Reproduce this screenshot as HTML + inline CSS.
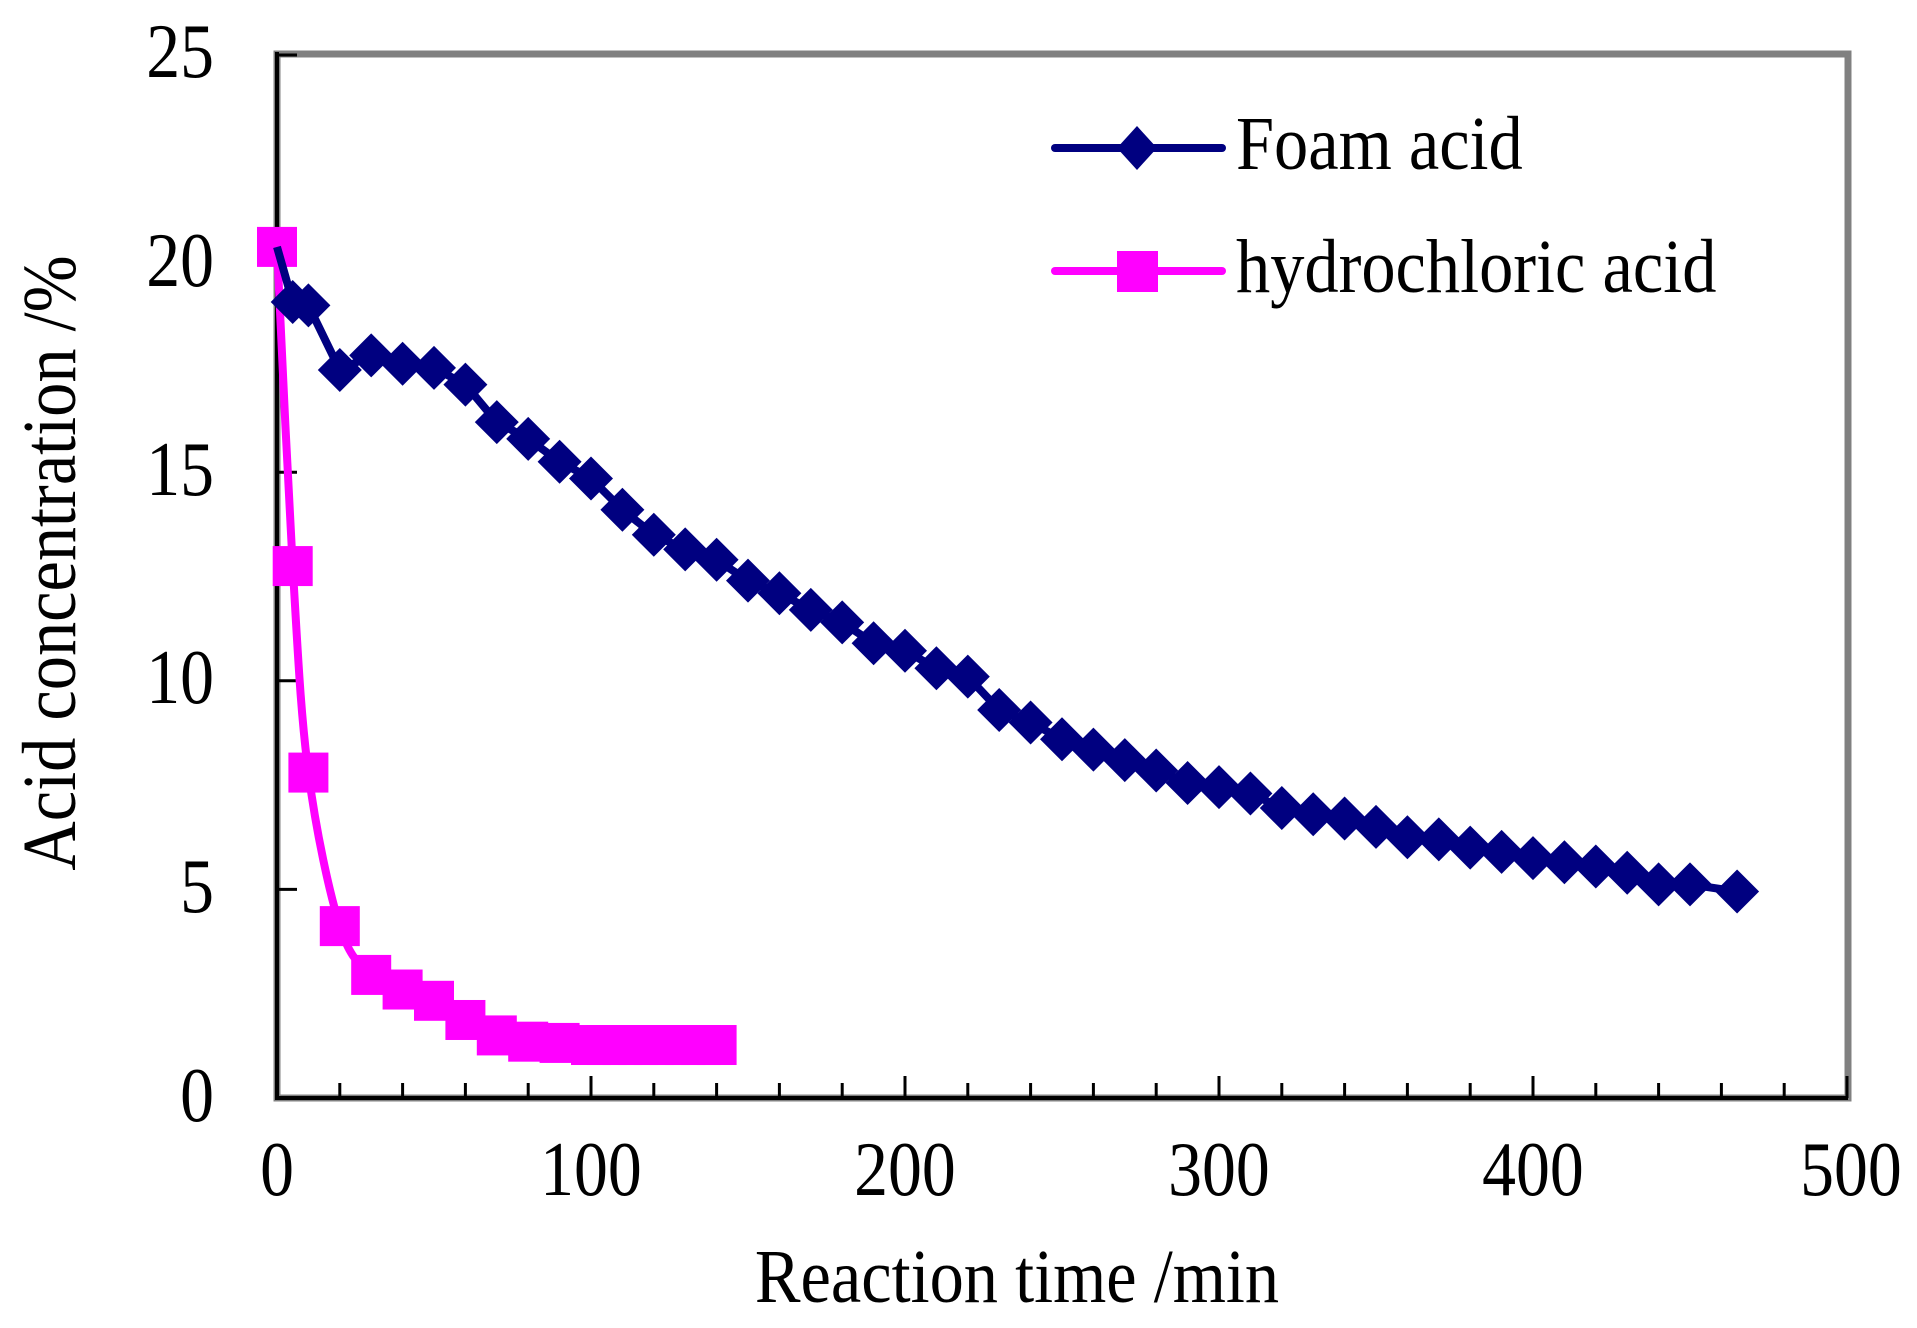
<!DOCTYPE html>
<html><head><meta charset="utf-8"><style>html,body{margin:0;padding:0;background:#fff}svg{display:block}text{font-family:"Liberation Serif",serif;fill:#000}</style></head>
<body>
<svg id="s" width="1917" height="1328" viewBox="0 0 1917 1328" xmlns="http://www.w3.org/2000/svg">
<rect x="0" y="0" width="1917" height="1328" fill="#fff"/>
<rect x="277" y="54" width="1571" height="1044" fill="none" stroke="#808080" stroke-width="7"/>
<line x1="277" y1="52" x2="277" y2="1100" stroke="#000" stroke-width="4"/>
<line x1="275" y1="1098" x2="1848" y2="1098" stroke="#000" stroke-width="4"/>
<g id="ticks" stroke="#000" stroke-width="3"></g>
<g font-size="77" text-anchor="end">
<text transform="translate(214,77) scale(0.88,1)">25</text>
<text transform="translate(214,286) scale(0.88,1)">20</text>
<text transform="translate(214,495) scale(0.88,1)">15</text>
<text transform="translate(214,703) scale(0.88,1)">10</text>
<text transform="translate(214,912) scale(0.88,1)">5</text>
<text transform="translate(214,1121) scale(0.88,1)">0</text>
</g>
<g font-size="77" text-anchor="middle">
<text transform="translate(277,1195) scale(0.88,1)">0</text>
<text transform="translate(591,1195) scale(0.88,1)">100</text>
<text transform="translate(905,1195) scale(0.88,1)">200</text>
<text transform="translate(1219,1195) scale(0.88,1)">300</text>
<text transform="translate(1533,1195) scale(0.88,1)">400</text>
<text transform="translate(1851,1195) scale(0.88,1)">500</text>
</g>
<text transform="translate(1017,1302) scale(0.9,1)" font-size="76" text-anchor="middle">Reaction time /min</text>
<text transform="translate(75,563) rotate(-90) scale(0.9,1)" font-size="76" text-anchor="middle">Acid concentration /%</text>
<g id="hcl"></g>
<g id="foam"></g>
<line x1="1055" y1="148" x2="1222" y2="148" stroke="#000080" stroke-width="8" stroke-linecap="round"/>
<polygon points="1137,126 1157,148 1137,170 1117,148" fill="#000080"/>
<text transform="translate(1236,169) scale(0.9,1)" font-size="76">Foam acid</text>
<line x1="1055" y1="271" x2="1222" y2="271" stroke="#ff00ff" stroke-width="8" stroke-linecap="round"/>
<rect x="1117" y="251" width="41" height="41" fill="#ff00ff"/>
<text transform="translate(1236,292) scale(0.9,1)" font-size="76">hydrochloric acid</text>
</svg>
<script>
var NS="http://www.w3.org/2000/svg";
function X(t){return 277+t*3.14;}
function Y(v){return 1098-v*41.72;}
function el(p,n,a){var e=document.createElementNS(NS,n);for(var k in a)e.setAttribute(k,a[k]);p.appendChild(e);return e;}
var tk=document.getElementById("ticks");
for(var t=20;t<=500;t+=20){var maj=(t%100==0);el(tk,"line",{x1:X(t),y1:1098,x2:X(t),y2:maj?1076:1083});}
for(var v=5;v<=25;v+=5){el(tk,"line",{x1:277,y1:Y(v),x2:297,y2:Y(v)});}
var foam=[[0,20.4],[5,19.08],[10,19.0],[20,17.45],[30,17.8],[40,17.6],[50,17.5],[60,17.1],[70,16.2],[80,15.8],[90,15.25],[100,14.85],[110,14.1],[120,13.5],[130,13.15],[140,12.9],[150,12.4],[160,12.1],[170,11.7],[180,11.4],[190,10.9],[200,10.72],[210,10.3],[220,10.1],[230,9.3],[240,9.0],[250,8.6],[260,8.35],[270,8.1],[280,7.85],[290,7.55],[300,7.45],[310,7.3],[320,6.95],[330,6.8],[340,6.7],[350,6.5],[360,6.25],[370,6.2],[380,6.0],[390,5.9],[400,5.75],[410,5.65],[420,5.55],[430,5.4],[440,5.12],[450,5.12],[465,4.95]];
var hcl=[[0,20.4],[5,12.75],[10,7.8],[20,4.12],[30,2.95],[40,2.6],[50,2.33],[60,1.87],[70,1.5],[80,1.35],[90,1.32],[100,1.27],[105,1.27],[110,1.27],[115,1.27],[120,1.27],[125,1.27],[130,1.27],[135,1.27],[140,1.27]];
var fg=document.getElementById("foam"),hg=document.getElementById("hcl");
var P=hcl.map(function(p){return [X(p[0]),Y(p[1])];});
var d="M"+P[0][0]+","+P[0][1];
for(var i=0;i<P.length-1;i++){var p0=P[i-1]||P[i],p1=P[i],p2=P[i+1],p3=P[i+2]||p2;
var c1=[p1[0]+(p2[0]-p0[0])/6,p1[1]+(p2[1]-p0[1])/6],c2=[p2[0]-(p3[0]-p1[0])/6,p2[1]-(p3[1]-p1[1])/6];
d+=" C"+c1+" "+c2+" "+p2;}
el(hg,"path",{d:d,fill:"none",stroke:"#ff00ff","stroke-width":8});
P.forEach(function(p){el(hg,"rect",{x:p[0]-20,y:p[1]-20,width:40,height:40,fill:"#ff00ff"});});
var F=foam.map(function(p){return [X(p[0]),Y(p[1])];});
el(fg,"polyline",{points:F.map(function(p){return p.join(",");}).join(" "),fill:"none",stroke:"#000080","stroke-width":8,"stroke-linejoin":"round"});
F.forEach(function(p,i){if(i==0)return;el(fg,"polygon",{points:[p[0],p[1]-22,p[0]+22,p[1],p[0],p[1]+22,p[0]-22,p[1]].join(" "),fill:"#000080"});});
</script>
</body></html>
